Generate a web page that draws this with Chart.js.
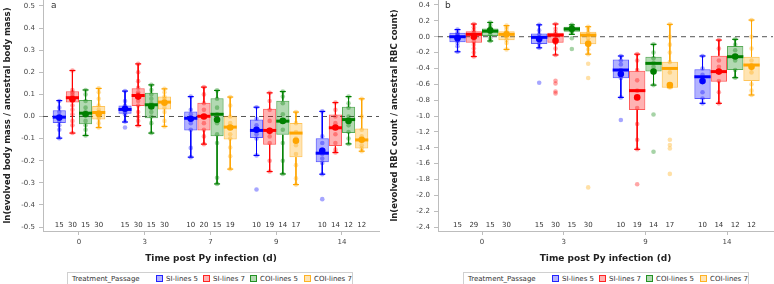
<!DOCTYPE html>
<html>
<head>
<meta charset="utf-8">
<script src="https://cdn.jsdelivr.net/npm/chart.js@4"></script>
<style>
  body { margin: 0; background: #fff; font-family: "DejaVu Sans", sans-serif; }
  #wrap { position: relative; width: 774px; height: 284px; overflow: hidden; }
  canvas { position: absolute; top: 0; }
  .legend { position: absolute; top: 272px; width: 286px; height: 14px; border: 1px solid #d0d0d0; box-sizing: border-box; font-size: 7px; color: #333; }
  .legend span { position: absolute; top: 2px; white-space: nowrap; }
  .legend i { display: inline-block; width: 5px; height: 5px; margin-right: 3px; vertical-align: -1px; }
</style>
</head>
<body>
<div id="wrap">
  <canvas id="chartA" width="387" height="266" style="left:0"></canvas>
  <canvas id="chartB" width="387" height="266" style="left:387px"></canvas>
</div>
<script>
const groups = ['SI-lines 5', 'SI-lines 7', 'COI-lines 5', 'COI-lines 7'];
const rgb = ['0,0,255', '255,0,0', '0,128,0', '255,165,0'];

// panel a - body mass. every array: one row per group, one entry per day
const daysA = ['0', '3', '7', '9', '14'];
const countA = [[15, 15, 10, 10, 10], [30, 30, 20, 19, 14], [15, 15, 15, 14, 12], [30, 30, 19, 17, 12]];
const loA = [[-0.098, -0.025, -0.184, -0.176, -0.261], [-0.075, -0.041, -0.125, -0.249, -0.163], [-0.086, -0.075, -0.305, -0.26, -0.124], [-0.05, -0.045, -0.238, -0.308, -0.157]];
const q1A = [[-0.029, 0.012, -0.063, -0.097, -0.207], [0.063, 0.047, -0.063, -0.128, -0.134], [-0.035, -0.008, -0.089, -0.083, -0.075], [-0.014, 0.032, -0.104, -0.184, -0.145]];
const medA = [[-0.003, 0.032, -0.008, -0.063, -0.166], [0.085, 0.095, 0.001, -0.063, -0.051], [0.015, 0.053, 0.01, -0.021, -0.014], [0.018, 0.065, -0.048, -0.075, -0.106]];
const q3A = [[0.028, 0.05, 0.023, -0.014, -0.098], [0.114, 0.128, 0.062, 0.035, 0.009], [0.075, 0.107, 0.083, 0.071, 0.044], [0.048, 0.09, 0.001, -0.029, -0.054]];
const hiA = [[0.072, 0.115, 0.09, 0.042, 0.023], [0.208, 0.238, 0.133, 0.107, 0.063], [0.12, 0.143, 0.118, 0.113, 0.09], [0.127, 0.125, 0.088, 0.02, 0.08]];
const meanA = [[-0.005, 0.035, -0.01, -0.06, -0.155], [0.078, 0.09, 0.0, -0.065, -0.05], [0.01, 0.045, -0.015, -0.02, -0.02], [0.012, 0.062, -0.05, -0.11, -0.105]];
const ptsA = [
  [[0.07, 0.04, 0.02, 0.0, -0.01, -0.02, -0.04, -0.06, -0.098], [0.115, 0.07, 0.05, 0.04, 0.03, 0.02, 0.01, -0.023, -0.05], [0.09, 0.03, 0.01, -0.01, -0.03, -0.06, -0.142, -0.184], [0.042, -0.01, -0.04, -0.06, -0.08, -0.1, -0.176, -0.33], [0.023, -0.09, -0.12, -0.15, -0.17, -0.19, -0.21, -0.261, -0.374]],
  [[0.208, 0.12, 0.11, 0.1, 0.09, 0.085, 0.07, 0.05, 0.03, 0.01, -0.02, -0.04, -0.075], [0.238, 0.2, 0.16, 0.13, 0.11, 0.1, 0.09, 0.07, 0.05, 0.02, 0.0, -0.02, -0.041], [0.133, 0.1, 0.06, 0.03, 0.0, -0.03, -0.06, -0.09, -0.125], [0.107, 0.07, 0.03, -0.02, -0.06, -0.09, -0.12, -0.2, -0.249], [0.063, 0.03, 0.0, -0.03, -0.05, -0.08, -0.12, -0.15, -0.163]],
  [[0.12, 0.1, 0.07, 0.04, 0.02, 0.01, -0.02, -0.04, -0.06, -0.086], [0.143, 0.12, 0.1, 0.08, 0.06, 0.05, 0.02, 0.0, -0.03, -0.075], [0.118, 0.08, 0.04, 0.01, -0.03, -0.08, -0.12, -0.277, -0.305], [0.113, 0.09, 0.06, 0.01, -0.02, -0.06, -0.12, -0.2, -0.26], [0.09, 0.06, 0.04, 0.0, -0.02, -0.04, -0.07, -0.1, -0.124]],
  [[0.127, 0.11, 0.08, 0.05, 0.03, 0.02, 0.0, -0.01, -0.03, -0.05], [0.125, 0.11, 0.09, 0.08, 0.07, 0.06, 0.04, 0.02, -0.02, -0.045], [0.088, 0.05, 0.0, -0.03, -0.05, -0.08, -0.1, -0.14, -0.18, -0.238], [0.02, -0.03, -0.07, -0.1, -0.13, -0.17, -0.22, -0.28, -0.308], [0.08, 0.0, -0.06, -0.09, -0.11, -0.13, -0.145, -0.157]]
];

// panel b - RBC count
const daysB = ['0', '3', '9', '14'];
const countB = [[15, 15, 10, 10], [29, 30, 19, 14], [15, 15, 14, 12], [30, 30, 17, 12]];
const loB = [[-0.19, -0.14, -0.765, -0.84], [-0.25, -0.23, -1.42, -0.84], [-0.054, 0.03, -0.61, -0.517], [-0.16, -0.22, -0.643, -0.735]];
const q1B = [[-0.07, -0.092, -0.525, -0.785], [-0.075, -0.075, -0.925, -0.567], [0.01, 0.063, -0.44, -0.42], [-0.046, -0.096, -0.643, -0.56]];
const medB = [[0.0, -0.008, -0.42, -0.505], [0.03, 0.02, -0.68, -0.44], [0.07, 0.097, -0.336, -0.252], [0.03, 0.02, -0.40, -0.357]];
const q3B = [[0.05, 0.04, -0.286, -0.41], [0.07, 0.05, -0.43, -0.24], [0.105, 0.125, -0.252, -0.117], [0.07, 0.063, -0.315, -0.252]];
const hiB = [[0.09, 0.15, -0.243, -0.243], [0.16, 0.16, -0.22, -0.042], [0.18, 0.15, -0.096, -0.033], [0.14, 0.126, 0.156, 0.21]];
const meanB = [[-0.02, -0.03, -0.47, -0.56], [0.0, -0.05, -0.765, -0.44], [0.08, 0.1, -0.44, -0.25], [0.03, -0.09, -0.61, -0.38]];
const ptsB = [
  [[0.09, 0.05, 0.03, 0.01, -0.02, -0.05, -0.08, -0.12, -0.19], [0.15, 0.08, 0.03, -0.01, -0.05, -0.09, -0.14, -0.58], [-0.243, -0.3, -0.35, -0.42, -0.47, -0.52, -0.765, -1.05], [-0.243, -0.4, -0.48, -0.56, -0.7, -0.78, -0.84]],
  [[0.16, 0.12, 0.08, 0.05, 0.02, -0.02, -0.06, -0.1, -0.15, -0.2, -0.25], [0.16, 0.1, 0.06, 0.03, 0.0, -0.04, -0.08, -0.15, -0.23, -0.555, -0.59, -0.69, -0.715], [-0.22, -0.3, -0.42, -0.55, -0.68, -0.77, -0.9, -1.1, -1.3, -1.42, -1.86], [-0.042, -0.15, -0.3, -0.38, -0.44, -0.56, -0.7, -0.84]],
  [[0.18, 0.14, 0.11, 0.08, 0.06, 0.03, -0.02, -0.054], [0.15, 0.13, 0.11, 0.1, 0.09, 0.07, 0.05, -0.02, -0.155], [-0.096, -0.2, -0.27, -0.33, -0.38, -0.44, -0.61, -0.98, -1.45], [-0.033, -0.1, -0.17, -0.25, -0.3, -0.42, -0.517]],
  [[0.14, 0.12, 0.09, 0.06, 0.03, 0.0, -0.04, -0.08, -0.16], [0.126, 0.09, 0.05, 0.02, -0.02, -0.06, -0.1, -0.16, -0.22, -0.34, -0.52, -1.9], [0.156, 0.0, -0.1, -0.2, -0.32, -0.45, -0.61, -0.64, -1.3, -1.366, -1.41, -1.73], [0.21, 0.0, -0.15, -0.3, -0.36, -0.45, -0.6, -0.68, -0.735]]
];

const FONT = 'DejaVu Sans';
const axisGrey = '#bdbdbd';

// x position of a group inside a day slot (bars use categoryPercentage 0.8)
const xs = (g, i) => i + (g - 1.5) * 0.2;

function boxChart(id, p) {
  const sets = [];
  // dashed zero line
  sets.push({
    type: 'line', data: [{ x: p.xMin, y: 0 }, { x: p.xMax, y: 0 }],
    borderColor: '#555', borderWidth: 1, borderDash: [5, 4], pointRadius: 0, order: 20
  });
  groups.forEach((name, g) => {
    const c = rgb[g];
    sets.push({
      type: 'bar', label: name,
      data: p.days.map((d, i) => ({ x: i, y: [p.q1[g][i], p.q3[g][i]] })),
      backgroundColor: `rgba(${c},0.3)`, borderColor: `rgba(${c},0.65)`, borderWidth: 1,
      borderSkipped: false, categoryPercentage: 0.8, barPercentage: 1, order: 10
    });
    const wh = [];
    p.days.forEach((d, i) => {
      const x = xs(g, i);
      wh.push({ x, y: p.hi[g][i], cap: 1 }, { x, y: p.q3[g][i] }, { x, y: null },
              { x, y: p.q1[g][i] }, { x, y: p.lo[g][i], cap: 1 }, { x, y: null });
    });
    sets.push({
      type: 'line', data: wh, borderColor: `rgb(${c})`, borderWidth: 1, spanGaps: false,
      pointStyle: 'line', pointRadius: ctx => (ctx.raw && ctx.raw.cap ? 3 : 0),
      pointBorderColor: `rgb(${c})`, pointBorderWidth: 1.2, order: 6
    });
    const pts = [];
    p.pts[g].forEach((vals, i) => vals.forEach(v => pts.push({ x: xs(g, i), y: v })));
    sets.push({
      type: 'scatter', data: pts, pointRadius: 2.3,
      pointBackgroundColor: `rgba(${c},0.35)`, pointBorderWidth: 0, order: 4
    });
    sets.push({
      type: 'scatter', data: p.days.map((d, i) => ({ x: xs(g, i), y: p.med[g][i] })),
      pointStyle: 'line',
      pointRadius: ctx => { const s = ctx.chart.scales.x; return s.getPixelForValue(0.1) - s.getPixelForValue(0); },
      pointBorderColor: `rgb(${c})`, pointBorderWidth: 3, order: 2
    });
    sets.push({
      type: 'scatter', data: p.days.map((d, i) => ({ x: xs(g, i), y: p.mean[g][i] })),
      pointRadius: 3.3, pointBackgroundColor: `rgb(${c})`, pointBorderWidth: 0, order: 1
    });
  });

  const extras = {
    id: 'extras',
    afterDatasetsDraw(chart) {
      const { ctx, chartArea, scales: { x, y } } = chart;
      ctx.save();
      ctx.fillStyle = '#333';
      ctx.font = `7px "${FONT}"`;
      ctx.textAlign = 'center';
      ctx.textBaseline = 'middle';
      p.count.forEach((row, g) => row.forEach((n, i) => {
        ctx.fillText(String(n), x.getPixelForValue(xs(g, i)), y.getPixelForValue(p.tickMin) - 2);
      }));
      ctx.font = `9px "${FONT}"`;
      ctx.textAlign = 'left';
      ctx.fillText(p.letter, chartArea.left + p.letterDx, chartArea.top + 6);
      ctx.restore();
    }
  };

  const gridOpts = { display: true, drawOnChartArea: false, drawTicks: true, tickLength: 4, color: axisGrey, offset: false };

  new Chart(document.getElementById(id), {
    type: 'bar',
    data: { datasets: sets },
    plugins: [extras],
    options: {
      responsive: false,
      animation: false,
      events: [],
      layout: { autoPadding: false, padding: { left: 0, right: p.padRight, top: 0, bottom: 0 } },
      plugins: { legend: { display: false }, tooltip: { enabled: false } },
      scales: {
        x: {
          type: 'linear', min: p.xMin, max: p.xMax, offset: false,
          grid: gridOpts, border: { color: axisGrey },
          ticks: {
            stepSize: 1, includeBounds: false, autoSkip: false, maxRotation: 0, padding: 3,
            color: '#444', font: { family: FONT, size: 7 },
            callback: v => (p.days[v] !== undefined ? p.days[v] : '')
          },
          title: {
            display: true, text: 'Time post Py infection (d)', color: '#222',
            font: { family: FONT, size: 9, weight: 'bold' }, padding: { top: 0, bottom: 1.5 }
          },
          afterFit: s => { s.height = 35; s.paddingLeft = 0; s.paddingRight = 0; }
        },
        y: {
          min: p.yMin, max: p.yMax,
          grid: gridOpts, border: { color: axisGrey },
          ticks: {
            stepSize: p.step, includeBounds: false, padding: 4,
            color: '#444', font: { family: FONT, size: 7 },
            callback: v => (Math.abs(v) < 1e-9 ? '0.0' : v.toFixed(1))
          },
          title: {
            display: true, text: p.yTitle, color: '#222',
            font: { family: FONT, size: 8.5, weight: 'bold' }, padding: { top: 3, bottom: 0 }
          },
          afterFit: s => { s.width = p.axisW; s.paddingTop = 0; s.paddingBottom = 0; }
        }
      }
    }
  });
}

function legend(left) {
  const pos = [88, 135, 182, 236];
  const box = document.createElement('div');
  box.className = 'legend';
  box.style.left = left + 'px';
  box.innerHTML = '<span style="left:4px">Treatment_Passage</span>' + groups.map((g, k) =>
    `<span style="left:${pos[k]}px"><i style="background:rgba(${rgb[k]},0.3);border:1px solid rgba(${rgb[k]},0.8)"></i>${g}</span>`
  ).join('');
  document.getElementById('wrap').appendChild(box);
}

boxChart('chartA', {
  days: daysA, count: countA, lo: loA, q1: q1A, med: medA, q3: q3A, hi: hiA, mean: meanA, pts: ptsA,
  yMin: -0.518, yMax: 0.527, step: 0.1, tickMin: -0.5,
  xMin: -0.5475, xMax: 4.563, axisW: 43, padRight: 8, letter: 'a', letterDx: 8,
  yTitle: 'ln(evolved body mass / ancestral body mass)'
});
boxChart('chartB', {
  days: daysB, count: countB, lo: loB, q1: q1B, med: medB, q3: q3B, hi: hiB, mean: meanB, pts: ptsB,
  yMin: -2.45, yMax: 0.463, step: 0.2, tickMin: -2.4,
  xMin: -0.539, xMax: 3.563, axisW: 51, padRight: 1, letter: 'b', letterDx: 7,
  yTitle: 'ln(evolved RBC count / ancestral RBC count)'
});
legend(67);
legend(463);
</script>
</body>
</html>
